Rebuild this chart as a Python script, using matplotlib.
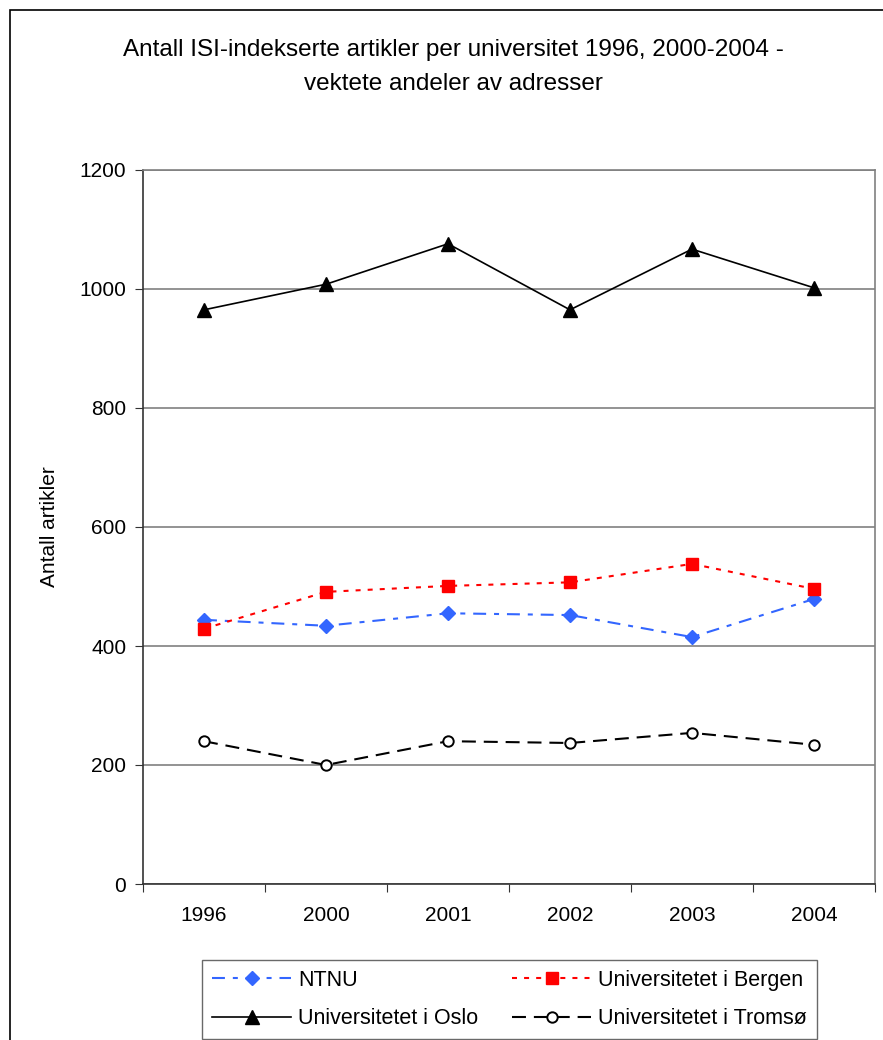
import matplotlib
matplotlib.use("Agg")
import matplotlib.pyplot as plt
from matplotlib.patches import Rectangle
import numpy as np

years = ["1996", "2000", "2001", "2002", "2003", "2004"]
ntnu = [444, 434, 455, 452, 415, 479]
bergen = [429, 491, 501, 507, 538, 496]
oslo = [965, 1008, 1076, 965, 1067, 1002]
tromso = [240, 200, 240, 237, 254, 234]
yticks = [0, 200, 400, 600, 800, 1000, 1200]

plt.rcParams['font.family'] = ['Liberation Sans', 'DejaVu Sans']

W, H = 883, 1040
fig = plt.figure(figsize=(W / 100, H / 100), dpi=100)
ax = fig.add_axes([143 / W, 1 - 884 / H, (875 - 143) / W, (884 - 170) / H])

x = np.arange(len(years))
blue = '#3366FF'
red = '#FF0000'
l1, = ax.plot(x, ntnu, color=blue, linestyle=(0, (6.2, 3.8, 2.4, 3.8)), lw=1.5,
              marker='D', markersize=6.8, markeredgecolor=blue, markerfacecolor=blue, label='NTNU')
l2, = ax.plot(x, bergen, color=red, linestyle=(0, (2.4, 3.4)), lw=1.5,
              marker='s', markersize=8.5, markeredgecolor=red, markerfacecolor=red,
              label='Universitetet i Bergen')
l3, = ax.plot(x, oslo, color='black', linestyle='-', lw=1.2,
              marker='^', markersize=9.5, markerfacecolor='black', label='Universitetet i Oslo')
l4, = ax.plot(x, tromso, color='black', linestyle=(0, (6.7, 3.8)), lw=1.5,
              marker='o', markersize=7.5, markerfacecolor='white', markeredgecolor='black',
              markeredgewidth=1.4, label='Universitetet i Tromsø')

ax.set_xlim(-0.5, len(years) - 0.5)
ax.set_ylim(0, 1200)
ax.set_yticks(yticks)
ax.set_yticklabels([str(v) for v in yticks], fontsize=15)
ax.set_xticks(np.arange(len(years) + 1) - 0.5)
ax.set_xticklabels([])
ax.set_xticks(x, minor=True)
ax.set_xticklabels(years, minor=True, fontsize=15)
ax.tick_params(axis='x', which='minor', length=0, pad=16)
ax.tick_params(axis='x', which='major', length=6, direction='out', color='#333333')
ax.tick_params(axis='y', length=6, direction='out', color='#333333', pad=6)

ax.yaxis.grid(True, color='#808080', lw=1.2)
ax.set_axisbelow(True)
for s in ['left', 'bottom']:
    ax.spines[s].set_color('#333333')
    ax.spines[s].set_linewidth(1.2)
for s in ['top', 'right']:
    ax.spines[s].set_color('#808080')
    ax.spines[s].set_linewidth(1.2)

ax.set_ylabel('Antall artikler', fontsize=15)
ax.yaxis.set_label_coords((59 - 143) / 732, (884 - 527) / 714)

fig.text(453 / W, 1 - 50 / H, 'Antall ISI-indekserte artikler per universitet 1996, 2000-2004 -',
         ha='center', va='center', fontsize=17.5)
fig.text(453 / W, 1 - 84 / H, 'vektete andeler av adresser',
         ha='center', va='center', fontsize=17.5)

# outer chart frame (cut off at right and bottom)
fig.patches.append(Rectangle((10 / W, -0.05), 1.0, 1 - 10 / H + 0.05, transform=fig.transFigure,
                             fill=False, edgecolor='black', lw=1.2))

leg = fig.legend(handles=[l1, l3, l2, l4], ncol=2, loc='upper left',
                 bbox_to_anchor=(202 / W, 1 - 960 / H), fontsize=15.5,
                 frameon=True, fancybox=False, edgecolor='#444444', handlelength=3.7,
                 columnspacing=1.55, borderpad=0.45, labelspacing=0.82, handletextpad=0.32,
                 borderaxespad=0)
leg.get_frame().set_linewidth(1.0)

fig.savefig('out.png', dpi=100)
